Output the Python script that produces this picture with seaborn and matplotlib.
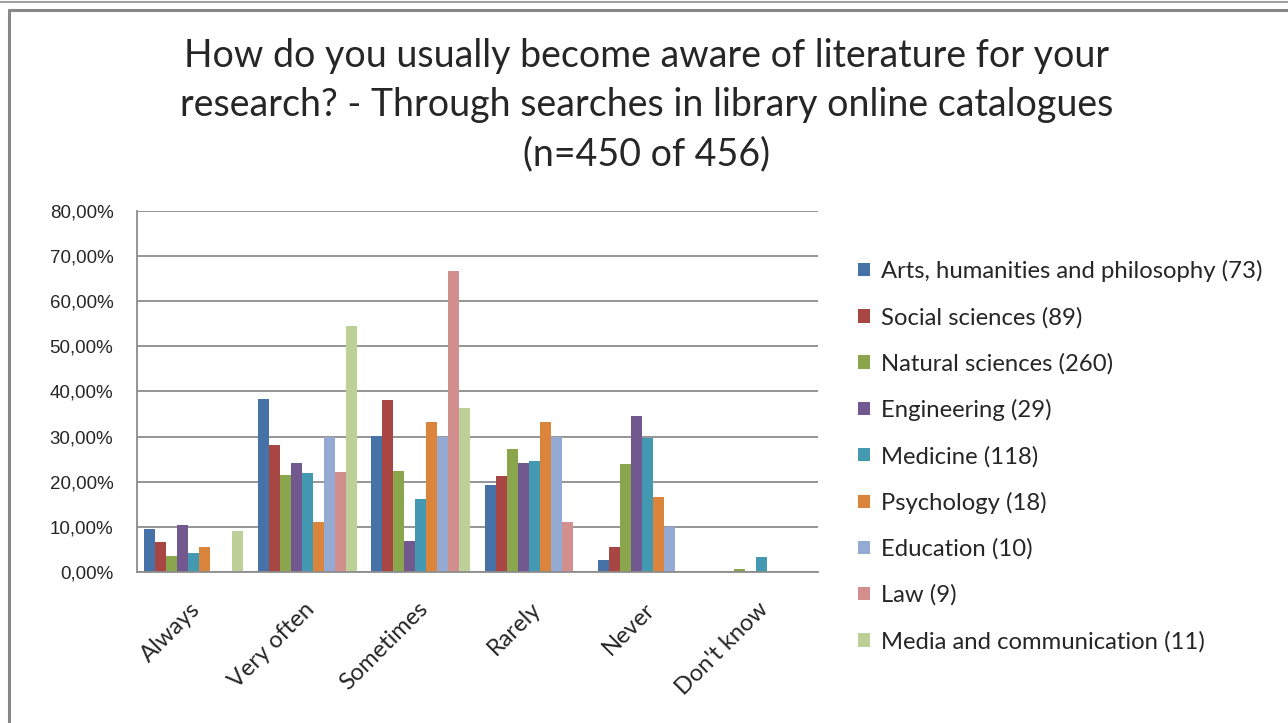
import numpy as np
import pandas as pd
import seaborn as sns
import matplotlib.pyplot as plt
import matplotlib.transforms as mtransforms
from matplotlib.lines import Line2D
from matplotlib.ticker import FuncFormatter

answers = ["Always", "Very often", "Sometimes", "Rarely", "Never", "Don't know"]
groups = ["Arts, humanities and philosophy (73)", "Social sciences (89)",
          "Natural sciences (260)", "Engineering (29)", "Medicine (118)",
          "Psychology (18)", "Education (10)", "Law (9)",
          "Media and communication (11)"]

# share of respondents (%) per answer, one list per group
arts = [9.59, 38.36, 30.14, 19.18, 2.74, 0.0]
social = [6.74, 28.09, 38.20, 21.35, 5.62, 0.0]
natural = [3.46, 21.54, 22.31, 27.31, 23.85, 0.6]
engineering = [10.34, 24.14, 6.90, 24.14, 34.48, 0.0]
medicine = [4.24, 22.03, 16.10, 24.58, 29.66, 3.39]
psychology = [5.56, 11.11, 33.33, 33.33, 16.67, 0.0]
education = [0.0, 30.00, 30.00, 30.00, 10.00, 0.0]
law = [0.0, 22.22, 66.67, 11.11, 0.0, 0.0]
media = [9.09, 54.55, 36.36, 0.0, 0.0, 0.0]

colors = ["#4672A8", "#A84644", "#8AA64C", "#71598F", "#4399B1",
          "#DB843C", "#95AAD2", "#D38F8E", "#BCD097"]

series = [arts, social, natural, engineering, medicine, psychology, education, law, media]
rows = []
for g, vals in zip(groups, series):
    for a, v in zip(answers, vals):
        rows.append({"answer": a, "group": g, "pct": v})
df = pd.DataFrame(rows)

sns.set_style("white")
fig = plt.figure(figsize=(12.88, 7.23), dpi=100)
ax = fig.add_axes([0.1064, 0.2089, 0.5287, 0.4993])

sns.barplot(data=df, x="answer", y="pct", hue="group", order=answers,
            hue_order=groups, palette=colors, width=0.87, gap=0,
            saturation=1, ax=ax, legend=True, edgecolor="none")

ax.set_ylim(0, 80)
ax.set_yticks(np.arange(0, 81, 10))
ax.yaxis.set_major_formatter(FuncFormatter(lambda v, p: f"{v:.2f}".replace(".", ",") + "%"))
ax.grid(axis="y", color="#8c8c8c", linewidth=1.3)
ax.set_axisbelow(True)
ax.set_xlabel("")
ax.set_ylabel("")
for s in ["top", "right"]:
    ax.spines[s].set_visible(False)
for s in ["left", "bottom"]:
    ax.spines[s].set_color("#8c8c8c")
    ax.spines[s].set_linewidth(1.3)

for lab in ax.get_yticklabels():
    lab.set_fontfamily("Liberation Sans")
    lab.set_fontsize(13.5)
ax.tick_params(axis="y", pad=17, length=0)
ax.tick_params(axis="x", pad=19, length=0)
shift = mtransforms.ScaledTranslation(-4 / 100, 0, fig.dpi_scale_trans)
for lab in ax.get_xticklabels():
    lab.set_rotation(45)
    lab.set_ha("right")
    lab.set_rotation_mode("anchor")
    lab.set_fontfamily("Lato")
    lab.set_fontsize(17)
    lab.set_transform(lab.get_transform() + shift)

leg = ax.legend(loc="center left", bbox_to_anchor=(1.045, 0.321),
                frameon=False, prop={"family": "Lato", "size": 17.2},
                handlelength=0.5, handleheight=0.5, handletextpad=0.45,
                labelspacing=1.03, borderaxespad=0)

fig.text(0.502, 0.855,
         "How do you usually become aware of literature for your\n"
         "research? - Through searches in library online catalogues\n"
         "(n=450 of 456)",
         ha="center", va="center", fontfamily="Lato", fontsize=27,
         linespacing=1.45)

# surrounding chart frame
fig.add_artist(Line2D([0, 1], [1 - 1.5 / 723] * 2, color="#a0a0a0", lw=1.5))
fig.add_artist(Line2D([8.5 / 1288, 1], [1 - 10 / 723] * 2, color="#888888", lw=2.2))
fig.add_artist(Line2D([8.5 / 1288] * 2, [0, 1 - 10 / 723], color="#888888", lw=2.2))

fig.savefig("out.png", dpi=100)
